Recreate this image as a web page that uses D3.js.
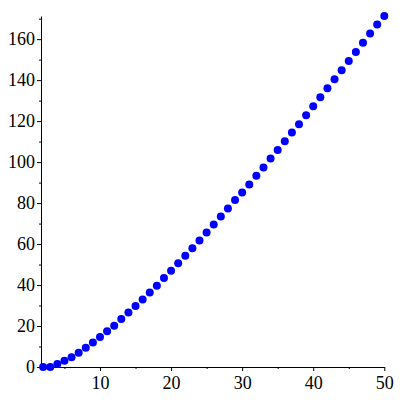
<!DOCTYPE html>
<html>
<head>
<meta charset="utf-8">
<script src="https://d3js.org/d3.v7.min.js"></script>
<style>
  body { margin: 0; background: #fff; }
</style>
</head>
<body>
<svg id="viz" width="400" height="400"></svg>
<script>
var nValues = [2, 3, 4, 5, 6, 7, 8, 9, 10, 11, 12, 13, 14, 15, 16, 17, 18, 19, 20,
  21, 22, 23, 24, 25, 26, 27, 28, 29, 30, 31, 32, 33, 34, 35, 36, 37, 38, 39, 40,
  41, 42, 43, 44, 45, 46, 47, 48, 49, 50];
var yValues = [0, 0, 1.5, 3, 4.7, 7, 9.4, 12, 14.6, 17.4, 20.1, 23.4, 26.6, 29.8,
  33, 36.4, 39.7, 43.4, 47, 50.6, 54.3, 58, 61.7, 65.6, 69.6, 73.5, 77.4, 81.5,
  85.2, 89.1, 93.3, 97.4, 101.7, 105.9, 110.2, 114.5, 118.5, 122.9, 127.3, 131.6,
  136, 140.4, 144.8, 149.3, 153.7, 158.2, 162.8, 167.2, 171.3];
var xTicks = [10, 20, 30, 40, 50];
var xMinorTicks = [5, 15, 25, 35, 45];
var yTicks = [0, 20, 40, 60, 80, 100, 120, 140, 160];
var yMinorTicks = [10, 30, 50, 70, 90, 110, 130, 150, 170];

var data = nValues.map(function (n, i) {
  return { n: n, v: yValues[i] };
});

var svg = d3.select("#viz");
var x = d3.scaleLinear().domain([1.7, 50]).range([41, 384.3]);
var y = d3
  .scaleLinear()
  .domain([0, d3.max(yValues)])
  .range([367, 16]);

// x axis
svg
  .append("g")
  .attr("transform", "translate(0," + y(0) + ")")
  .call(d3.axisBottom(x).tickValues(xTicks).tickSize(4).tickSizeOuter(0).tickPadding(5));
svg
  .append("g")
  .attr("transform", "translate(0," + y(0) + ")")
  .call(d3.axisBottom(x).tickValues(xMinorTicks).tickSize(2).tickSizeOuter(0).tickFormat(""))
  .select(".domain")
  .remove();

// y axis
svg
  .append("g")
  .attr("transform", "translate(" + x(1.7) + ",0)")
  .call(d3.axisLeft(y).tickValues(yTicks).tickSize(4).tickSizeOuter(0).tickPadding(2));
svg
  .append("g")
  .attr("transform", "translate(" + x(1.7) + ",0)")
  .call(d3.axisLeft(y).tickValues(yMinorTicks).tickSize(2).tickSizeOuter(0).tickFormat(""))
  .select(".domain")
  .remove();

svg
  .selectAll("g")
  .attr("font-family", "'Liberation Serif', 'DejaVu Serif', serif")
  .attr("font-size", 18);
svg.selectAll(".tick text").attr("fill", "#000");
svg.selectAll(".domain, .tick line").attr("stroke", "#000");

// points
svg
  .append("g")
  .selectAll("circle")
  .data(data)
  .enter()
  .append("circle")
  .attr("cx", function (d) { return x(d.n); })
  .attr("cy", function (d) { return y(d.v); })
  .attr("r", 4)
  .attr("fill", "#0000ff");
</script>
</body>
</html>
